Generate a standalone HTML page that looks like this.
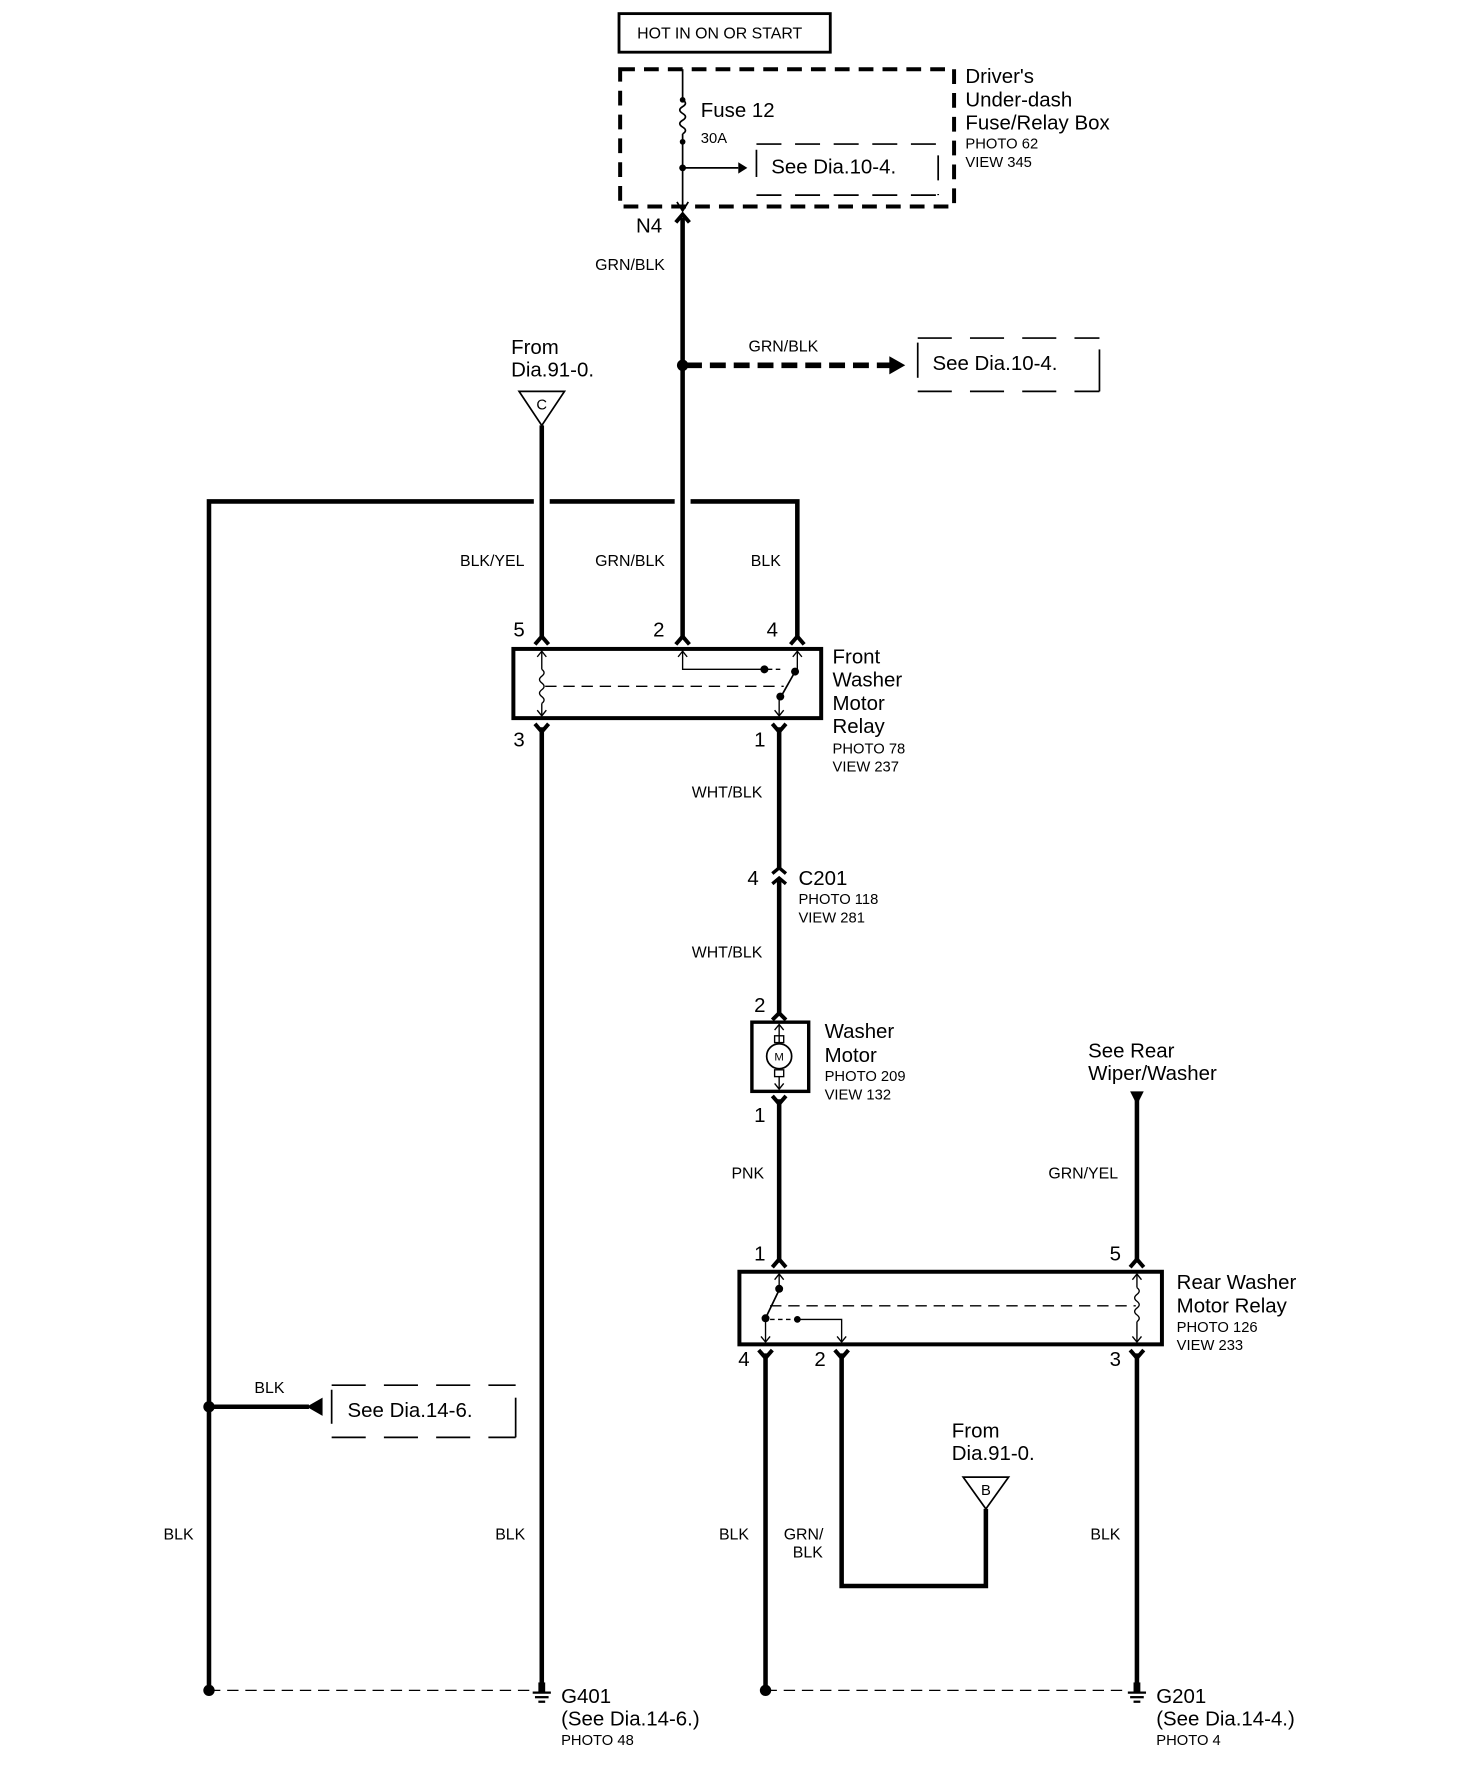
<!DOCTYPE html>
<html><head><meta charset="utf-8"><style>
html,body{margin:0;padding:0;background:#fff;}
svg{display:block;}
text{font-family:"Liberation Sans",Arial,sans-serif;fill:#000;}
.b{font-size:18px;}
.s{font-size:13px;}
.w{font-size:14px;}
</style></head><body>
<svg width="1472" height="1780" viewBox="0 0 1296 1569" preserveAspectRatio="none" xmlns="http://www.w3.org/2000/svg">
<g fill="none" stroke="#000">
<rect x="545" y="12" width="186" height="34" stroke-width="2.5"/>
<rect x="546" y="61" width="294" height="121" stroke-width="3.5" stroke-dasharray="13,8"/>
<line x1="601" y1="61" x2="601" y2="88" stroke-width="1.5"/>
<path d="M601 88 q5 3 0 6 q-5 3 0 6 q5 3 0 6 q-5 3 0 6 q5 3 0 6" stroke-width="1.5"/>
<line x1="601" y1="118" x2="601" y2="185" stroke-width="1.5"/>
<path d="M596 178 L601 186 L606 178" stroke-width="1.5"/>
<line x1="601" y1="148" x2="650" y2="148" stroke-width="1.5"/>
<line x1="666" y1="132" x2="666" y2="156" stroke-width="1.5"/>
<line x1="666" y1="127" x2="826" y2="127" stroke-width="1.5" stroke-dasharray="22,12"/>
<line x1="666" y1="172" x2="826" y2="172" stroke-width="1.5" stroke-dasharray="22,12"/>
<line x1="826" y1="137" x2="826" y2="172" stroke-width="1.5" stroke-dasharray="22,12"/>
<line x1="601" y1="192" x2="601" y2="563" stroke-width="4"/>
<path d="M595 196 L601 189 L607 196" stroke-width="3.5"/>
<line x1="604" y1="322" x2="785" y2="322" stroke-width="5" stroke-dasharray="14,7"/>
<line x1="808" y1="302" x2="808" y2="333" stroke-width="1.5"/>
<line x1="808" y1="298" x2="968" y2="298" stroke-width="1.5" stroke-dasharray="30,16"/>
<line x1="808" y1="345" x2="968" y2="345" stroke-width="1.5" stroke-dasharray="30,16"/>
<line x1="968" y1="308" x2="968" y2="345" stroke-width="1.5"/>
<path d="M457 345 L497 345 L477 375 Z" stroke-width="1.5"/>
<line x1="477" y1="375" x2="477" y2="563" stroke-width="4"/>
<polyline points="470,442 184,442 184,1490" stroke-width="4"/>
<line x1="484" y1="442" x2="594" y2="442" stroke-width="4"/>
<polyline points="608,442 702,442 702,563" stroke-width="4"/>
<path d="M471 568 L477 561 L483 568" stroke-width="3.5"/>
<path d="M595 568 L601 561 L607 568" stroke-width="3.5"/>
<path d="M696 568 L702 561 L708 568" stroke-width="3.5"/>
<rect x="452" y="572" width="271" height="61" stroke-width="3.5"/>
<line x1="477" y1="574" x2="477" y2="590" stroke-width="1.2"/>
<path d="M473 579 L477 574 L481 579" stroke-width="1.2"/>
<path d="M477 590 q4 3 0 6 q-4 3 0 6 q4 3 0 6 q-4 3 0 6 q4 3 0 6" stroke-width="1.2"/>
<line x1="477" y1="620" x2="477" y2="631" stroke-width="1.2"/>
<path d="M473 626 L477 631 L481 626" stroke-width="1.2"/>
<line x1="480" y1="605" x2="690" y2="605" stroke-width="1.2" stroke-dasharray="10,6"/>
<polyline points="601,574 601,590 672,590" stroke-width="1.2"/>
<path d="M597 579 L601 574 L605 579" stroke-width="1.2"/>
<line x1="676" y1="590" x2="690" y2="590" stroke-width="1.2" stroke-dasharray="4,3"/>
<line x1="702" y1="574" x2="702" y2="590" stroke-width="1.2"/>
<path d="M698 579 L702 574 L706 579" stroke-width="1.2"/>
<line x1="700" y1="592" x2="686" y2="617" stroke-width="1.5"/>
<line x1="686" y1="617" x2="686" y2="631" stroke-width="1.2"/>
<path d="M682 626 L686 631 L690 626" stroke-width="1.2"/>
<path d="M471 638 L477 645 L483 638" stroke-width="3.5"/>
<path d="M680 638 L686 645 L692 638" stroke-width="3.5"/>
<line x1="477" y1="641" x2="477" y2="1488" stroke-width="4"/>
<line x1="686" y1="641" x2="686" y2="766" stroke-width="4"/>
<path d="M680 770 L686 765 L692 770" stroke-width="3"/>
<path d="M680 779 L686 774 L692 779" stroke-width="3"/>
<line x1="686" y1="776" x2="686" y2="895" stroke-width="4"/>
<path d="M680 899 L686 893 L692 899" stroke-width="3.5"/>
<rect x="662" y="901" width="50" height="61" stroke-width="3"/>
<line x1="686" y1="903" x2="686" y2="920" stroke-width="1.2"/>
<path d="M682 908 L686 903 L690 908" stroke-width="1.2"/>
<rect x="682" y="913" width="8" height="6" stroke-width="1.2"/>
<circle cx="686" cy="931" r="11" stroke-width="1.5"/>
<rect x="682" y="943" width="8" height="6" stroke-width="1.2"/>
<line x1="686" y1="949" x2="686" y2="960" stroke-width="1.2"/>
<path d="M682 955 L686 960 L690 955" stroke-width="1.2"/>
<path d="M680 966 L686 973 L692 966" stroke-width="3.5"/>
<line x1="686" y1="969" x2="686" y2="1113" stroke-width="4"/>
<path d="M680 1117 L686 1110 L692 1117" stroke-width="3.5"/>
<line x1="1001" y1="968" x2="1001" y2="1113" stroke-width="4"/>
<path d="M995 1117 L1001 1110 L1007 1117" stroke-width="3.5"/>
<rect x="651" y="1121" width="372" height="64" stroke-width="3.5"/>
<line x1="686" y1="1123" x2="686" y2="1137" stroke-width="1.2"/>
<path d="M682 1128 L686 1123 L690 1128" stroke-width="1.2"/>
<line x1="686" y1="1137" x2="674" y2="1162" stroke-width="1.5"/>
<line x1="678" y1="1151" x2="1000" y2="1151" stroke-width="1.2" stroke-dasharray="10,6"/>
<line x1="674" y1="1162" x2="674" y2="1183" stroke-width="1.2"/>
<path d="M670 1178 L674 1183 L678 1178" stroke-width="1.2"/>
<line x1="678" y1="1163" x2="696" y2="1163" stroke-width="1.2" stroke-dasharray="4,3"/>
<polyline points="701,1163 741,1163 741,1183" stroke-width="1.2"/>
<path d="M737 1178 L741 1183 L745 1178" stroke-width="1.2"/>
<line x1="1001" y1="1123" x2="1001" y2="1135" stroke-width="1.2"/>
<path d="M997 1128 L1001 1123 L1005 1128" stroke-width="1.2"/>
<path d="M1001 1135 q4 3 0 6 q-4 3 0 6 q4 3 0 6 q-4 3 0 6 q4 3 0 6" stroke-width="1.2"/>
<line x1="1001" y1="1165" x2="1001" y2="1183" stroke-width="1.2"/>
<path d="M997 1178 L1001 1183 L1005 1178" stroke-width="1.2"/>
<path d="M668 1190 L674 1197 L680 1190" stroke-width="3.5"/>
<path d="M735 1190 L741 1197 L747 1190" stroke-width="3.5"/>
<path d="M995 1190 L1001 1197 L1007 1190" stroke-width="3.5"/>
<line x1="674" y1="1193" x2="674" y2="1490" stroke-width="4"/>
<polyline points="741,1193 741,1398 868,1398 868,1330" stroke-width="4"/>
<path d="M848 1302 L888 1302 L868 1330 Z" stroke-width="1.5"/>
<line x1="1001" y1="1193" x2="1001" y2="1488" stroke-width="4"/>
<line x1="184" y1="1240" x2="272" y2="1240" stroke-width="4"/>
<line x1="292" y1="1225" x2="292" y2="1255" stroke-width="1.5"/>
<line x1="292" y1="1221" x2="454" y2="1221" stroke-width="1.5" stroke-dasharray="30,16"/>
<line x1="292" y1="1267" x2="454" y2="1267" stroke-width="1.5" stroke-dasharray="30,16"/>
<line x1="454" y1="1232" x2="454" y2="1267" stroke-width="1.5"/>
<line x1="184" y1="1490" x2="470" y2="1490" stroke-width="1.2" stroke-dasharray="10,6"/>
<line x1="674" y1="1490" x2="994" y2="1490" stroke-width="1.2" stroke-dasharray="10,6"/>
<g stroke-width="2">
<line x1="469" y1="1492" x2="485" y2="1492"/><line x1="471" y1="1496" x2="483" y2="1496"/><line x1="474" y1="1500" x2="480" y2="1500"/>
<line x1="993" y1="1492" x2="1009" y2="1492"/><line x1="995" y1="1496" x2="1007" y2="1496"/><line x1="998" y1="1500" x2="1004" y2="1500"/>
</g>
</g>
<g fill="#000">
<circle cx="601" cy="88" r="2.5"/><circle cx="601" cy="125" r="2.5"/><circle cx="601" cy="148" r="3"/>
<path d="M650 143 L658 148 L650 153 Z"/>
<circle cx="601" cy="322" r="5"/>
<path d="M783 314 L797 322 L783 330 Z"/>
<circle cx="673" cy="590" r="3.5"/><circle cx="700" cy="592" r="3.5"/><circle cx="687" cy="614" r="3.5"/>
<circle cx="686" cy="1136" r="3.5"/><circle cx="674" cy="1162" r="3.5"/><circle cx="702" cy="1163" r="3"/>
<path d="M995 962 L1007 962 L1001 974 Z"/>
<path d="M284 1232 L270 1240 L284 1248 Z"/>
<circle cx="184" cy="1240" r="5"/>
<circle cx="184" cy="1490" r="5"/><circle cx="674" cy="1490" r="5"/>
<rect x="474" y="1483" width="6" height="8"/><rect x="998" y="1483" width="6" height="8"/>
</g>
<text x="561" y="34" class="w">HOT IN ON OR START</text>
<text x="617" y="103" class="b">Fuse 12</text>
<text x="617" y="126" class="s">30A</text>
<text x="679" y="153" class="b">See Dia.10-4.</text>
<text x="850" y="73" class="b">Driver's</text>
<text x="850" y="94" class="b">Under-dash</text>
<text x="850" y="114" class="b">Fuse/Relay Box</text>
<text x="850" y="131" class="s">PHOTO 62</text>
<text x="850" y="147" class="s">VIEW 345</text>
<text x="560" y="205" class="b">N4</text>
<text x="524" y="238" class="w">GRN/BLK</text>
<text x="659" y="310" class="w">GRN/BLK</text>
<text x="821" y="326" class="b">See Dia.10-4.</text>
<text x="450" y="312" class="b">From</text>
<text x="450" y="332" class="b">Dia.91-0.</text>
<text x="477" y="361" class="s" text-anchor="middle">C</text>
<text x="405" y="499" class="w">BLK/YEL</text>
<text x="524" y="499" class="w">GRN/BLK</text>
<text x="661" y="499" class="w">BLK</text>
<text x="452" y="561" class="b">5</text>
<text x="575" y="561" class="b">2</text>
<text x="675" y="561" class="b">4</text>
<text x="452" y="658" class="b">3</text>
<text x="664" y="658" class="b">1</text>
<text x="733" y="585" class="b">Front</text>
<text x="733" y="605" class="b">Washer</text>
<text x="733" y="626" class="b">Motor</text>
<text x="733" y="646" class="b">Relay</text>
<text x="733" y="664" class="s">PHOTO 78</text>
<text x="733" y="680" class="s">VIEW 237</text>
<text x="609" y="703" class="w">WHT/BLK</text>
<text x="658" y="780" class="b">4</text>
<text x="703" y="780" class="b">C201</text>
<text x="703" y="797" class="s">PHOTO 118</text>
<text x="703" y="813" class="s">VIEW 281</text>
<text x="609" y="844" class="w">WHT/BLK</text>
<text x="664" y="892" class="b">2</text>
<text x="686" y="935" font-size="10" text-anchor="middle">M</text>
<text x="726" y="915" class="b">Washer</text>
<text x="726" y="936" class="b">Motor</text>
<text x="726" y="953" class="s">PHOTO 209</text>
<text x="726" y="969" class="s">VIEW 132</text>
<text x="664" y="989" class="b">1</text>
<text x="644" y="1039" class="w">PNK</text>
<text x="958" y="932" class="b">See Rear</text>
<text x="958" y="952" class="b">Wiper/Washer</text>
<text x="923" y="1039" class="w">GRN/YEL</text>
<text x="664" y="1111" class="b">1</text>
<text x="977" y="1111" class="b">5</text>
<text x="1036" y="1136" class="b">Rear Washer</text>
<text x="1036" y="1157" class="b">Motor Relay</text>
<text x="1036" y="1174" class="s">PHOTO 126</text>
<text x="1036" y="1190" class="s">VIEW 233</text>
<text x="650" y="1204" class="b">4</text>
<text x="717" y="1204" class="b">2</text>
<text x="977" y="1204" class="b">3</text>
<text x="224" y="1228" class="w">BLK</text>
<text x="306" y="1249" class="b">See Dia.14-6.</text>
<text x="838" y="1267" class="b">From</text>
<text x="838" y="1287" class="b">Dia.91-0.</text>
<text x="868" y="1318" class="s" text-anchor="middle">B</text>
<text x="144" y="1357" class="w">BLK</text>
<text x="436" y="1357" class="w">BLK</text>
<text x="633" y="1357" class="w">BLK</text>
<text x="690" y="1357" class="w">GRN/</text>
<text x="698" y="1373" class="w">BLK</text>
<text x="960" y="1357" class="w">BLK</text>
<text x="494" y="1501" class="b">G401</text>
<text x="494" y="1521" class="b">(See Dia.14-6.)</text>
<text x="494" y="1538" class="s">PHOTO 48</text>
<text x="1018" y="1501" class="b">G201</text>
<text x="1018" y="1521" class="b">(See Dia.14-4.)</text>
<text x="1018" y="1538" class="s">PHOTO 4</text>
</svg>
</body></html>
